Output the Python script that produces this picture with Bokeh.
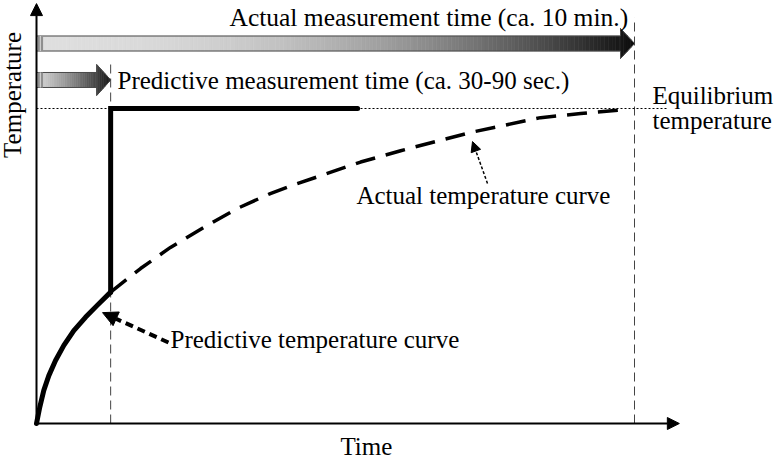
import numpy as np
from bokeh.plotting import figure
from bokeh.models import Range1d, Label, Arrow, NormalHead
from bokeh.embed import file_html
from bokeh.resources import INLINE

# ---------------- data (time in minutes, temperature as fraction of the rise) ----------------
predictive_time = [0.0, 0.055, 0.122, 0.206, 0.318, 0.457, 0.624, 0.819, 1.015, 1.24]
predictive_temp = [0.0, 0.052, 0.105, 0.152, 0.200, 0.248, 0.295, 0.337, 0.375, 0.417]

actual_time = [1.24, 1.74, 2.24, 2.79, 3.36, 3.91, 4.28, 5.42, 6.09, 7.26, 8.43, 9.10, 9.85]
actual_temp = [0.417, 0.492, 0.559, 0.622, 0.683, 0.730, 0.756, 0.830, 0.866, 0.924, 0.971, 0.984, 0.997]

predicted_time = [1.24, 1.24, 5.37]
predicted_temp = [0.417, 1.0, 1.0]

equilibrium_temp = 1.0
predictive_measure_time = 1.24
actual_measure_time = 10.0

FONT = "Liberation Serif"

# ---------------- figure ----------------
SX, SY = 59.8, 315.0          # px per minute, px per unit temperature
OX, OY = 36, 39               # origin offset from left / bottom edge (px)
W, H = 774, 462
p = figure(width=W, height=H, output_backend="svg", toolbar_location=None,
           x_range=Range1d(-OX / SX, (W - OX) / SX),
           y_range=Range1d(-OY / SY, (H - OY) / SY),
           x_axis_location=None, y_axis_location=None,
           min_border=0, outline_line_color=None)
p.grid.visible = False
p.background_fill_color = "white"
p.border_fill_color = "white"


# ---------------- gradient arrows ----------------
def gradient_arrow(t0, t1, yc, bar_h, head_h, head_len, n, gamma, hi, lo):
    xb = t1 - head_len
    edges = np.unique(np.concatenate([np.linspace(t0, t1, n + 1), [xb]]))
    xs, ys, cols = [], [], []

    def hh(x):
        return head_h * (t1 - x) / head_len

    for a, b in zip(edges[:-1], edges[1:]):
        if b <= xb + 1e-9:
            xs.append([a, b, b, a])
            ys.append([yc - bar_h, yc - bar_h, yc + bar_h, yc + bar_h])
        else:
            ha, hb = hh(a), hh(b)
            xs.append([a, b, b, a])
            ys.append([yc - ha, yc - hb, yc + hb, yc + ha])
        f = ((a + b) / 2 - t0) / (t1 - t0)
        lev = int(round(hi - (hi - lo) * f ** gamma))
        cols.append("#%02x%02x%02x" % (lev, lev, lev))
    p.patches(xs, ys, fill_color=cols, line_color=cols, line_width=0.6)
    ox = [t0, xb, xb, t1, xb, xb, t0]
    oy = [yc + bar_h, yc + bar_h, yc + head_h, yc, yc - head_h, yc - bar_h, yc - bar_h]
    p.patch(ox, oy, fill_color=None, line_color="#4a4a4a", line_width=1)
    # small end cap
    p.quad(left=[t0 + 0.02], right=[t0 + 0.11], bottom=[yc - bar_h], top=[yc + bar_h],
           fill_color="#8f8f8f", line_color=None)
    p.segment(x0=[t0 + 0.065], x1=[t0 + 0.065], y0=[yc - bar_h], y1=[yc + bar_h],
              line_color="#cfcfcf", line_width=1.2)


gradient_arrow(0.0, actual_measure_time, 1.2063, 7.5 / SY, 15 / SY, 14 / SX, 160, 2.2, 222, 12)
gradient_arrow(0.0, predictive_measure_time, 1.0905, 7.5 / SY, 15.5 / SY, 14 / SX, 40, 1.2, 215, 25)

# ---------------- reference lines ----------------
p.segment(x0=[predictive_measure_time, actual_measure_time], y0=[0, 0],
          x1=[predictive_measure_time, actual_measure_time], y1=[1.146, 1.289],
          line_color="#444444", line_width=1, line_dash="9 5")
p.line([0, actual_measure_time + 0.54], [equilibrium_temp, equilibrium_temp],
       line_color="black", line_width=1, line_dash="2 2")

# ---------------- curves ----------------
p.line(actual_time, actual_temp, line_color="black", line_width=3.5, line_dash="20 11")
p.line(predictive_time, predictive_temp, line_color="black", line_width=5,
       line_cap="round", line_join="round")
p.line(predicted_time, predicted_temp, line_color="black", line_width=5,
       line_join="miter", line_cap="round")

# ---------------- axes ----------------
p.add_layout(Arrow(end=NormalHead(size=12, fill_color="black", line_color="black"),
                   x_start=0, y_start=0, x_end=0, y_end=1.333,
                   line_color="black", line_width=2))
p.add_layout(Arrow(end=NormalHead(size=12, fill_color="black", line_color="black"),
                   x_start=0, y_start=0, x_end=10.75, y_end=0,
                   line_color="black", line_width=2))

# ---------------- pointer arrows ----------------
p.add_layout(Arrow(end=NormalHead(size=10, fill_color="black", line_color="black"),
                   x_start=7.542, y_start=0.762, x_end=7.291, y_end=0.895,
                   line_color="black", line_width=1.5, line_dash="3 2"))
p.add_layout(Arrow(end=NormalHead(size=15, fill_color="black", line_color="black"),
                   x_start=2.207, y_start=0.257, x_end=1.104, y_end=0.352,
                   line_color="black", line_width=4, line_dash="8 5"))

# ---------------- texts ----------------
def lab(x, y, txt, size="25px", align="left", angle=0.0):
    p.add_layout(Label(x=x, y=y, text=txt, text_font=FONT, text_font_size=size,
                       text_color="black", text_align=align,
                       text_baseline="alphabetic", angle=angle))


lab(3.227, 1.289, "Actual measurement time (ca. 10 min.)", size="25.5px")
lab(1.355, 1.089, "Predictive measurement time (ca. 30-90 sec.)")
lab(10.30, 1.041, "Equilibrium")
lab(10.30, 0.962, "temperature")
lab(5.35, 0.723, "Actual temperature curve")
lab(2.241, 0.266, "Predictive temperature curve")
lab(5.083, -0.074, "Time")
lab(-0.402, 1.043, "Temperature", align="center", angle=np.pi / 2)

open("out.html", "w").write(file_html(p, INLINE))
